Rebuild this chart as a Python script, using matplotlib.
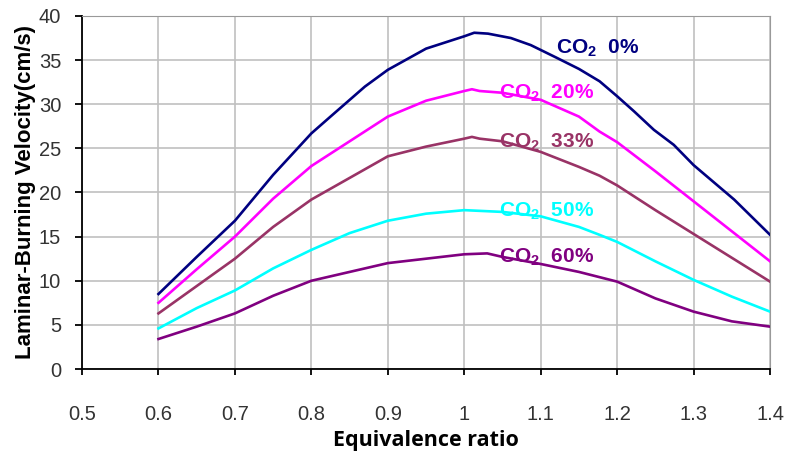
import matplotlib
matplotlib.use("Agg")
import matplotlib.pyplot as plt

plt.rcParams['font.family'] = ['Liberation Sans', 'DejaVu Sans']
plt.rcParams['mathtext.fontset'] = 'custom'
plt.rcParams['mathtext.rm'] = 'Liberation Sans'
plt.rcParams['mathtext.bf'] = 'Liberation Sans:bold'

# ================= DATA =================
phi_0 = [0.6, 0.65, 0.7, 0.75, 0.8, 0.825, 0.87, 0.9, 0.95, 1.0, 1.013, 1.031, 1.061,
         1.087, 1.12, 1.15, 1.177, 1.2, 1.222, 1.248, 1.274, 1.3, 1.353, 1.4]
co2_0 = [8.5, 12.7, 16.8, 22.0, 26.7, 28.6, 32.0, 33.9, 36.3, 37.7, 38.1, 38.0, 37.5,
         36.7, 35.3, 34.0, 32.6, 30.9, 29.2, 27.1, 25.4, 23.1, 19.2, 15.2]

phi_20 = [0.6, 0.65, 0.7, 0.75, 0.8, 0.9, 0.95, 1.0, 1.01, 1.02, 1.05, 1.1, 1.15,
          1.177, 1.2, 1.25, 1.3, 1.4]
co2_20 = [7.5, 11.3, 15.0, 19.3, 23.0, 28.6, 30.4, 31.5, 31.7, 31.5, 31.3, 30.5, 28.6,
          26.9, 25.7, 22.4, 19.0, 12.2]

phi_33 = [0.6, 0.65, 0.7, 0.75, 0.8, 0.9, 0.95, 1.0, 1.01, 1.02, 1.05, 1.1, 1.15,
          1.177, 1.2, 1.25, 1.3, 1.4]
co2_33 = [6.3, 9.4, 12.5, 16.1, 19.2, 24.1, 25.2, 26.1, 26.3, 26.1, 25.8, 24.6, 22.9,
          21.9, 20.8, 18.0, 15.3, 9.9]

phi_50 = [0.6, 0.65, 0.7, 0.75, 0.8, 0.85, 0.9, 0.95, 1.0, 1.05, 1.1, 1.15, 1.177,
          1.2, 1.25, 1.3, 1.35, 1.4]
co2_50 = [4.6, 6.9, 8.9, 11.4, 13.5, 15.4, 16.8, 17.6, 18.0, 17.8, 17.3, 16.1, 15.2,
          14.4, 12.2, 10.1, 8.2, 6.5]

phi_60 = [0.6, 0.65, 0.7, 0.75, 0.8, 0.85, 0.9, 0.95, 1.0, 1.03, 1.05, 1.1, 1.15,
          1.2, 1.25, 1.3, 1.35, 1.4]
co2_60 = [3.4, 4.8, 6.3, 8.3, 10.0, 11.0, 12.0, 12.5, 13.0, 13.1, 12.7, 11.9, 11.0,
          9.9, 8.0, 6.5, 5.4, 4.8]

series = [
    (phi_0, co2_0, "#000080", r"CO$_\mathbf{2}$  0%", 1.12, 36.4),
    (phi_20, co2_20, "#FF00FF", r"CO$_\mathbf{2}$  20%", 1.045, 31.3),
    (phi_33, co2_33, "#993366", r"CO$_\mathbf{2}$  33%", 1.045, 25.7),
    (phi_50, co2_50, "#00FFFF", r"CO$_\mathbf{2}$  50%", 1.045, 17.9),
    (phi_60, co2_60, "#800080", r"CO$_\mathbf{2}$  60%", 1.045, 12.7),
]

# ================= PLOT =================
fig = plt.figure(figsize=(7.85, 4.54), dpi=100)
ax = fig.add_axes([0.1045, 0.1872, 0.8765, 0.7776])

for x, y, c, lab, tx, ty in series:
    ax.plot(x, y, color=c, lw=1.9, zorder=3, solid_joinstyle='round')
    ax.text(tx, ty, lab, color=c, fontsize=15, fontweight='bold',
            va='center', ha='left', zorder=4)

ax.set_xlim(0.5, 1.4)
ax.set_ylim(0, 40)
ax.set_xticks([0.5, 0.6, 0.7, 0.8, 0.9, 1.0, 1.1, 1.2, 1.3, 1.4])
ax.set_xticklabels(["0.5", "0.6", "0.7", "0.8", "0.9", "1", "1.1", "1.2", "1.3", "1.4"])
ax.set_yticks(range(0, 41, 5))

ax.grid(True, color="#c0c0c0", lw=1.2, zorder=0)
ax.set_axisbelow(True)

ax.spines['left'].set_color('black')
ax.spines['bottom'].set_color('black')
ax.spines['left'].set_linewidth(1.3)
ax.spines['bottom'].set_linewidth(1.3)
ax.spines['top'].set_color('#999999')
ax.spines['right'].set_color('#999999')

ax.tick_params(axis='x', direction='out', length=4, width=1.3, pad=22,
               labelsize=14.5, labelcolor='#333333')
ax.tick_params(axis='y', direction='out', length=5, width=1.3, pad=10,
               labelsize=14.5, labelcolor='#333333')

ax.set_xlabel("Equivalence ratio", fontsize=15.5, fontweight='bold',
              family=['Open Sans', 'DejaVu Sans'], labelpad=4)
ax.set_ylabel("Laminar-Burning Velocity(cm/s)", fontsize=16, fontweight='bold',
              labelpad=2)

fig.savefig("out.png", dpi=100)
